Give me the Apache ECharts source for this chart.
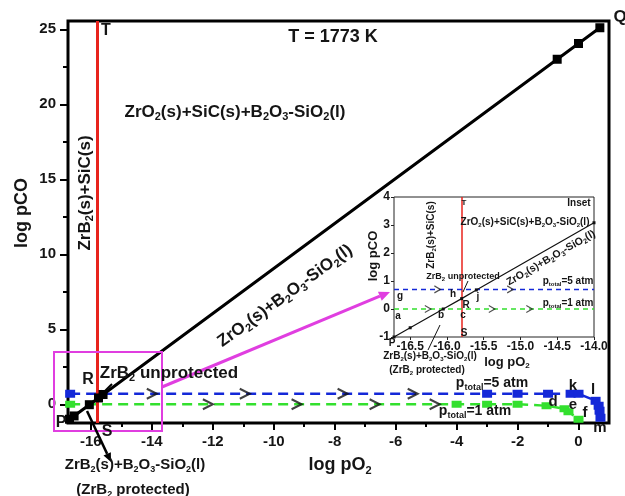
<!DOCTYPE html>
<html><head><meta charset="utf-8">
<script src="https://cdn.jsdelivr.net/npm/echarts@6/dist/echarts.min.js"></script>
<style>html,body{margin:0;padding:0;background:#fff}#c{width:625px;height:496px}</style>
</head><body><div id="c"></div>
<script>
// ---------------- data ----------------
const xTicks = [-16, -14, -12, -10, -8, -6, -4, -2, 0];
const xMinorTicks = [-15, -13, -11, -9, -7, -5, -3, -1];
const yTicks = [0, 5, 10, 15, 20, 25];
const yMinorTicks = [2.5, 7.5, 12.5, 17.5, 22.5];
const insetXTicks = [-16.5, -16.0, -15.5, -15.0, -14.5, -14.0];
const insetYTicks = [-1, 0, 1, 2, 3, 4];

const xMin = -16.75, xMax = 1.0, yMin = -1.25, yMax = 25.55;
const insetXMin = -16.72, insetXMax = -14.0, insetYMin = -1, insetYMax = 4;

const boundaryPO2 = -15.8;            // line S-T
const blackPO2 = [-16.7, -16.55, -16.05, -15.75, -15.6, -0.7, 0, 0.7];
const blackPCO = [-1.0, -0.78, -0.03, 0.42, 0.65, 23.0, 24.05, 25.1];
const bluePO2 = [-16.68, -3, -2, -1, -0.26, 0, 0.56, 0.66, 0.69, 0.72];
const bluePCO = [0.7, 0.7, 0.7, 0.7, 0.7, 0.7, 0.23, -0.1, -0.43, -0.9];
const greenPO2 = [-16.68, -4, -3, -2, -1.05, -0.46, -0.33, 0];
const greenPCO = [0, 0, 0, 0, -0.1, -0.3, -0.5, -1.0];
const blueArrowPO2 = [-14, -10.95, -7.74, -5.44];
const greenArrowPO2 = [-12.16, -9.25, -6.69, -4.72];
const blueLevel = 0.7, greenLevel = 0;

const insetLinePO2 = [-16.72, -16.5, -16.05, -15.8, -15.6, -14.0];
const insetLinePCO = [-1, -0.67, 0, 0.37, 0.68, 3.08];
const insetBluePO2 = [-16.72, -14.0];
const insetGreenPO2 = [-16.72, -14.0];
const insetBlueArrowPO2 = [-16.13, -15.14];
const insetGreenArrowPO2 = [-16.26, -15.39, -14.88];

// ---------------- helpers ----------------
const FONT = '"Liberation Sans", Arial, sans-serif';
const zip = (xs, ys) => xs.map((x, i) => [x, ys[i]]);
const level = (xs, y) => xs.map(x => [x, y]);
const RED = '#e8231d', BLUE = '#1428d8', GREEN = '#33e02e', MAG = '#e03ee0', TXT = '#151515';

function rich(txt) {
  return '{n|' + txt.replace(/_\{([^}]*)\}|_(\d)/g, (m, a, b) => '}{s|' + (a || b) + '}{n|') + '}';
}
function richStyle(fs, color) {
  return {
    n: { fontSize: fs, fontWeight: 'bold', fontFamily: FONT, fill: color, color: color, lineHeight: Math.round(fs * 1.25) },
    s: { fontSize: Math.round(fs * 0.62), fontWeight: 'bold', fontFamily: FONT, fill: color, color: color,
         lineHeight: Math.round(fs * 0.62), verticalAlign: 'bottom' }
  };
}
function label(txt, x, y, fs, rot, color) {
  return { type: 'text', x: x, y: y, rotation: (rot || 0) * Math.PI / 180, z: 100,
    style: { text: rich(txt), rich: richStyle(fs, color || TXT), align: 'center', verticalAlign: 'middle',
             textAlign: 'center', textVerticalAlign: 'middle' } };
}
function arrow(x1, y1, x2, y2, color, w, head) {
  const a = Math.atan2(y2 - y1, x2 - x1);
  const hx = x2 - head * Math.cos(a), hy = y2 - head * Math.sin(a);
  const px = Math.sin(a) * head * 0.45, py = -Math.cos(a) * head * 0.45;
  return [
    { type: 'line', z: 90, shape: { x1: x1, y1: y1, x2: hx, y2: hy }, style: { stroke: color, lineWidth: w } },
    { type: 'polygon', z: 90, shape: { points: [[x2, y2], [hx + px, hy + py], [hx - px, hy - py]] }, style: { fill: color } }
  ];
}
const CHEV = 'path://M0,0L10,5L0,10';

const mainLabel = { fontSize: 15, fontWeight: 'bold', color: TXT, fontFamily: FONT };
const insetLabel = { fontSize: 12, fontWeight: 'bold', color: TXT, fontFamily: FONT };

const option = {
  animation: false,
  backgroundColor: '#fff',
  grid: [
    { left: 68, right: 16, top: 21, bottom: 73, show: true, borderColor: '#000', borderWidth: 3, backgroundColor: 'transparent' },
    { left: 394, right: 31, top: 197, bottom: 159, show: true, borderColor: '#222', borderWidth: 1, backgroundColor: '#fff', z: 5 }
  ],
  xAxis: [
    { gridIndex: 0, position: 'bottom', type: 'value', min: xMin, max: xMax, axisLine: { show: false, onZero: false }, splitLine: { show: false },
      axisTick: { show: true, customValues: xTicks, length: 7, lineStyle: { width: 2, color: '#000' } },
      axisLabel: { customValues: xTicks, margin: 11, ...mainLabel } },
    { gridIndex: 0, position: 'bottom', type: 'value', min: xMin, max: xMax, axisLine: { show: false, onZero: false }, splitLine: { show: false },
      axisTick: { show: true, customValues: xMinorTicks, length: 4, lineStyle: { width: 2, color: '#000' } },
      axisLabel: { show: false } },
    { gridIndex: 1, position: 'bottom', type: 'value', min: insetXMin, max: insetXMax, axisLine: { show: false, onZero: false }, splitLine: { show: false },
      axisTick: { show: true, customValues: insetXTicks, length: 3, lineStyle: { width: 1, color: '#222' } },
      axisLabel: { customValues: insetXTicks, margin: 4, formatter: v => v.toFixed(1), ...insetLabel } }
  ],
  yAxis: [
    { gridIndex: 0, position: 'left', type: 'value', min: yMin, max: yMax, axisLine: { show: false, onZero: false }, splitLine: { show: false },
      axisTick: { show: true, customValues: yTicks, length: 8, lineStyle: { width: 2, color: '#000' } },
      axisLabel: { customValues: yTicks, margin: 12, ...mainLabel } },
    { gridIndex: 0, position: 'left', type: 'value', min: yMin, max: yMax, axisLine: { show: false, onZero: false }, splitLine: { show: false },
      axisTick: { show: true, customValues: yMinorTicks, length: 5, lineStyle: { width: 2, color: '#000' } },
      axisLabel: { show: false } },
    { gridIndex: 1, position: 'left', type: 'value', min: insetYMin, max: insetYMax, interval: 1, axisLine: { show: false, onZero: false }, splitLine: { show: false },
      axisTick: { show: true, customValues: insetYTicks, length: 3, lineStyle: { width: 1, color: '#222' } },
      axisLabel: { customValues: insetYTicks, margin: 4, ...insetLabel } }
  ],
  series: [
    // ---- main ----
    { type: 'line', xAxisIndex: 0, yAxisIndex: 0, data: zip(greenPO2, greenPCO),
      symbol: 'rect', symbolSize: [10, 7], lineStyle: { color: GREEN, width: 2.5, type: [10, 6] }, itemStyle: { color: GREEN }, z: 3 },
    { type: 'line', xAxisIndex: 0, yAxisIndex: 0, data: zip(bluePO2, bluePCO),
      symbol: 'rect', symbolSize: [10, 8], lineStyle: { color: BLUE, width: 2.5, type: [10, 6] }, itemStyle: { color: BLUE }, z: 3 },
    { type: 'scatter', xAxisIndex: 0, yAxisIndex: 0, data: level(blueArrowPO2, blueLevel).concat(level(greenArrowPO2, greenLevel)),
      symbol: CHEV, symbolSize: [10, 10], itemStyle: { color: 'transparent', borderColor: '#111', borderWidth: 2 }, z: 4 },
    { type: 'line', xAxisIndex: 0, yAxisIndex: 0, data: zip(blackPO2, blackPCO),
      symbol: 'rect', symbolSize: 9, lineStyle: { color: '#000', width: 3 }, itemStyle: { color: '#000' }, z: 5,
      markLine: { silent: true, symbol: ['none', 'none'], label: { show: false }, animation: false,
        lineStyle: { color: RED, width: 3, type: 'solid' }, data: [{ xAxis: boundaryPO2 }] } },
    // ---- inset ----
    { type: 'line', xAxisIndex: 2, yAxisIndex: 2, data: level(insetGreenPO2, greenLevel), showSymbol: false,
      lineStyle: { color: GREEN, width: 1.5, type: [5, 4] }, z: 6 },
    { type: 'line', xAxisIndex: 2, yAxisIndex: 2, data: level(insetBluePO2, blueLevel), showSymbol: false,
      lineStyle: { color: BLUE, width: 1.5, type: [5, 4] }, z: 6 },
    { type: 'scatter', xAxisIndex: 2, yAxisIndex: 2, data: level(insetBlueArrowPO2, blueLevel).concat(level(insetGreenArrowPO2, greenLevel)),
      symbol: CHEV, symbolSize: [6, 7], itemStyle: { color: 'transparent', borderColor: '#222', borderWidth: 1.2 }, z: 7 },
    { type: 'line', xAxisIndex: 2, yAxisIndex: 2, data: zip(insetLinePO2, insetLinePCO),
      symbol: 'rect', symbolSize: 3, lineStyle: { color: '#111', width: 1.2 }, itemStyle: { color: '#111' }, z: 8,
      markLine: { silent: true, symbol: ['none', 'none'], label: { show: false }, animation: false,
        lineStyle: { color: RED, width: 1.5, type: 'solid' }, data: [{ xAxis: boundaryPO2 }] } }
  ],
  graphic: [
    { type: 'rect', z: 80, shape: { x: 54, y: 352, width: 108, height: 79 }, style: { fill: 'none', stroke: MAG, lineWidth: 2 } },
    ...arrow(162, 387, 390, 292, MAG, 3, 11),
    ...arrow(112, 384, 99, 397, '#000', 2, 7),
    ...arrow(87, 411, 111, 462, '#000', 2.5, 9),
    { type: 'line', z: 90, shape: { x1: 428, y1: 350, x2: 440, y2: 325 }, style: { stroke: '#111', lineWidth: 1 } },
    { type: 'line', z: 90, shape: { x1: 468, y1: 281, x2: 463, y2: 292 }, style: { stroke: '#111', lineWidth: 1 } },
    // main labels
    label('T = 1773 K', 333, 37, 18),
    label('ZrO_2(s)+SiC(s)+B_2O_3-SiO_2(l)', 235, 112, 17),
    label('ZrB_2(s)+SiC(s)', 85, 193, 17, 90),
    label('ZrO_2(s)+B_2O_3-SiO_2(l)', 285, 296, 17, 36),
    label('T', 106, 31, 16),
    label('Q', 620, 17, 17),
    label('R', 88, 380, 16),
    label('ZrB_2 unprotected', 169, 373, 17),
    label('P', 61, 423, 16),
    label('S', 107, 432, 16),
    label('ZrB_2(s)+B_2O_3-SiO_2(l)', 135, 465, 15),
    label('(ZrB_2 protected)', 133, 490, 15),
    label('log pO_2', 340, 465, 18),
    label('log pCO', 22, 213, 18, 90),
    label('p_{total}=5 atm', 492, 383, 14),
    label('p_{total}=1 atm', 475, 411, 14),
    label('k', 573, 386, 15), label('l', 593, 390, 15), label('d', 553, 402, 15),
    label('e', 573, 405, 15), label('f', 585, 413, 15), label('m', 600, 428, 15),
    // inset labels
    label('T', 464, 203, 8),
    label('Inset', 579, 203, 10),
    label('ZrO_2(s)+SiC(s)+B_2O_3-SiO_2(l)', 525, 222, 10),
    label('ZrB_2(s)+SiC(s)', 431, 235, 10, 90),
    label('ZrB_2 unprotected', 463, 277, 9),
    label('ZrO_2(s)+B_2O_3-SiO_2(l)', 551, 258, 10.5, 30),
    label('p_{total}=5 atm', 568, 281, 10),
    label('p_{total}=1 atm', 568, 303, 10),
    label('g', 400, 296, 10), label('h', 453, 294, 10), label('j', 478, 297, 10), label('R', 466, 305, 10),
    label('a', 398, 316, 10), label('b', 441, 315, 10), label('c', 463, 315, 10), label('S', 464, 333, 10),
    label('P', 392, 343, 10),
    label('ZrB_2(s)+B_2O_3-SiO_2(l)', 430, 356, 10),
    label('(ZrB_2 protected)', 427, 370, 10),
    label('log pO_2', 507, 362, 13),
    label('log pCO', 373, 256, 13, 90)
  ]
};
const chart = echarts.init(document.getElementById('c'), null, { renderer: 'canvas' });
chart.setOption(option);
</script>
</body></html>
